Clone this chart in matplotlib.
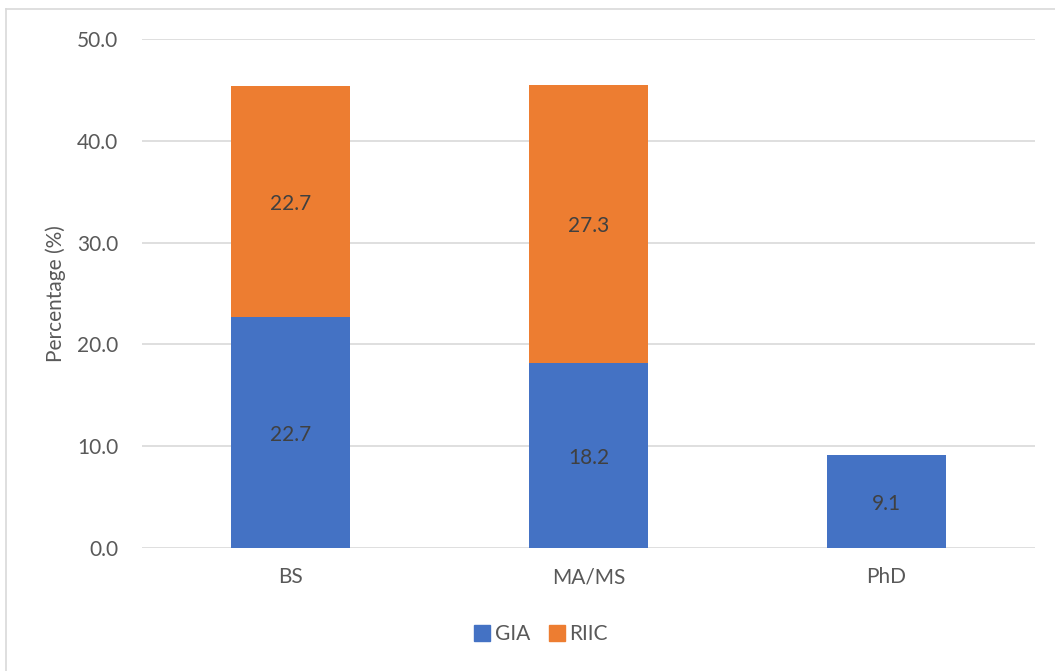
import matplotlib
matplotlib.use("Agg")
import matplotlib.pyplot as plt
from matplotlib.lines import Line2D

plt.rcParams["font.family"] = ["Lato", "DejaVu Sans"]

degrees = ["BS", "MA/MS", "PhD"]
gia = [22.7, 18.2, 9.1]
riic = [22.7, 27.3, 0.0]
series_names = ["GIA", "RIIC"]

BLUE = "#4472C4"
ORANGE = "#ED7D31"
TICK_COL = "#595959"
LABEL_COL = "#404040"
GRID_COL = "#D9D9D9"
FS = 15

W, H = 1055, 671
fig = plt.figure(figsize=(W / 100, H / 100), dpi=100)
ax = fig.add_axes([142 / W, 1 - 548 / H, (1035 - 142) / W, (548 - 39) / H])

x = range(len(degrees))
ax.bar(x, gia, width=0.4, color=BLUE, zorder=3)
ax.bar(x, riic, width=0.4, bottom=gia, color=ORANGE, zorder=3)

# value labels in the middle of each segment, skip empty ones
for i in x:
    if gia[i] > 0:
        ax.text(i, gia[i] / 2 - 0.25, "%.1f" % gia[i], ha="center", va="center",
                fontsize=FS, color=LABEL_COL, zorder=4)
    if riic[i] > 0:
        ax.text(i, gia[i] + riic[i] / 2 - 0.25, "%.1f" % riic[i], ha="center",
                va="center", fontsize=FS, color=LABEL_COL, zorder=4)

ax.set_xlim(-0.5, 2.5)
ax.set_ylim(0, 50)
ax.set_yticks([0, 10, 20, 30, 40, 50])
ax.set_yticklabels(["%.1f" % v for v in [0, 10, 20, 30, 40, 50]])
ax.set_xticks(list(x))
ax.set_xticklabels(degrees)
ax.tick_params(axis="both", length=0, labelsize=FS, labelcolor=TICK_COL)
ax.tick_params(axis="y", pad=17)
ax.tick_params(axis="x", pad=14)
ax.yaxis.grid(True, color=GRID_COL, linewidth=1.2, zorder=0)
for s in ax.spines.values():
    s.set_visible(False)

ax.set_ylabel("Percentage (%)", fontsize=FS, color=TICK_COL, labelpad=8)

handles = [
    Line2D([0], [0], marker="s", linestyle="none", markersize=11,
           markerfacecolor=BLUE, markeredgecolor=BLUE, label=series_names[0]),
    Line2D([0], [0], marker="s", linestyle="none", markersize=11,
           markerfacecolor=ORANGE, markeredgecolor=ORANGE, label=series_names[1]),
]
fig.legend(handles=handles, loc="center", bbox_to_anchor=(540 / W, 1 - 634 / H),
           ncol=2, frameon=False, fontsize=FS, labelcolor=TICK_COL,
           handletextpad=0.1, columnspacing=0.8, handlelength=1.0)

# thin outer frame along the left and top edge
fig.add_artist(Line2D([6 / W, 6 / W], [0, 1 - 9 / H], transform=fig.transFigure,
                      color=GRID_COL, linewidth=1.2))
fig.add_artist(Line2D([6 / W, 1], [1 - 9 / H, 1 - 9 / H], transform=fig.transFigure,
                      color=GRID_COL, linewidth=1.2))

fig.savefig("out.png", dpi=100)
